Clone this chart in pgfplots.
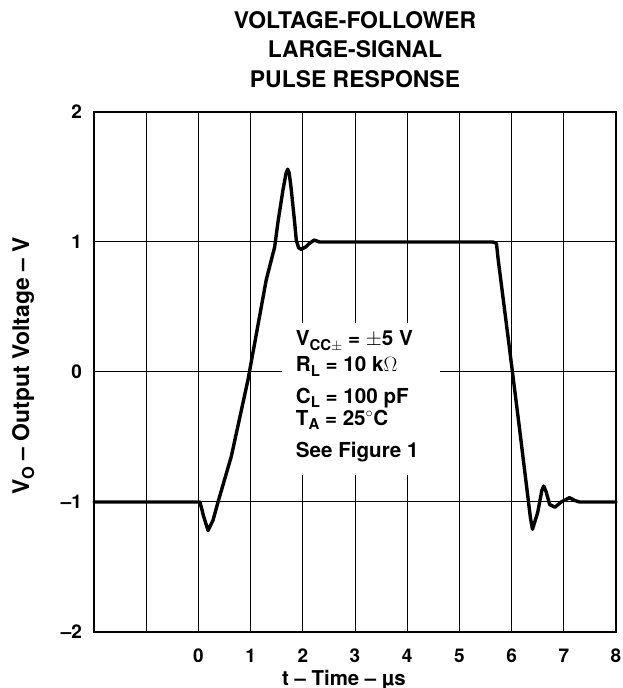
\documentclass[border=0pt]{standalone}
\usepackage{pgfplots}
\pgfplotsset{compat=1.18}
\usepackage{fontspec}
\setmainfont{TeX Gyre Heros}
\newcommand{\sub}[1]{\raisebox{-4.5bp}{\fontsize{15}{15}\selectfont #1}}
\newcommand{\ysub}[1]{\raisebox{-5bp}{\fontsize{16.5}{16.5}\selectfont #1}}
\begin{document}
\begin{tikzpicture}
\path[use as bounding box] (0bp,0bp) rectangle (623bp,688bp);
\node[font=\fontsize{23}{29.5}\selectfont\bfseries, align=center] at (355bp,638.5bp) {VOLTAGE-FOLLOWER\\LARGE-SIGNAL\\PULSE RESPONSE};
\begin{axis}[
  at={(94bp,56bp)}, anchor=south west,
  scale only axis, width=522bp, height=520bp,
  xmin=-2, xmax=8, ymin=-2, ymax=2,
  xtick={-2,-1,0,1,2,3,4,5,6,7,8},
  xticklabels={,,0,1,2,3,4,5,6,7,8},
  ytick={-2,-1,0,1,2},
  yticklabels={\textendash2,\textendash1,0,1,2},
  grid=major,
  major grid style={line width=1bp, black},
  major tick length=0pt,
  axis line style={line width=2.7bp},
  tick label style={font=\fontsize{19}{19}\selectfont\bfseries},
  xticklabel style={anchor=base, yshift=-30bp},
  yticklabel style={anchor=east, inner sep=0pt, xshift=-12bp},
  xlabel={t \textendash{} Time \textendash{} µs},
  xlabel style={at={(axis description cs:0.5,0)}, anchor=base, yshift=-53bp, xshift=-11bp, font=\fontsize{20.5}{20.5}\selectfont\bfseries},
  ylabel={V\ysub{O} \textendash{} Output Voltage \textendash{} V},
  ylabel style={at={(axis description cs:-0.1245,0.5115)}, anchor=base, font=\fontsize{23}{23}\selectfont\bfseries},
  clip=false,
]
\fill[white] (axis cs:1.596,0.377) rectangle (axis cs:4.623,-0.792);
\addplot[black, line width=3.4bp, line join=round, line cap=round] coordinates {
(-2,-1) (0.03,-1) (0.10,-1.11) (0.185,-1.22) (0.28,-1.14) (0.376,-1.0)
(0.63,-0.65) (0.95,-0.06) (1.30,0.71) (1.46,0.96) (1.525,1.156) (1.62,1.40)
(1.68,1.53) (1.71,1.56) (1.74,1.53) (1.78,1.40) (1.845,1.146) (1.875,1.015)
(1.92,0.955) (1.97,0.944) (2.05,0.96) (2.13,0.99) (2.22,1.015) (2.32,1.0)
(5.64,1.0) (5.71,0.99) (5.74,0.875) (5.96,0.18) (6.155,-0.446) (6.36,-1.12)
(6.40,-1.21) (6.50,-1.08) (6.58,-0.91) (6.615,-0.877) (6.66,-0.92) (6.73,-1.02)
(6.83,-1.04) (6.95,-1.0) (7.11,-0.967) (7.22,-0.99) (7.30,-1.0) (8,-1)
};
\begin{scope}[every node/.style={anchor=base west, inner sep=0pt, font=\fontsize{20.7}{20.7}\selectfont\bfseries}]
\node at (axis cs:1.864,0.20) {V\sub{CC$\pm$} = $\pm$5 V};
\node at (axis cs:1.864,0.00) {R\sub{L} = 10 k$\Omega$};
\node at (axis cs:1.864,-0.24) {C\sub{L} = 100 pF};
\node at (axis cs:1.864,-0.41) {T\sub{A} = 25$^\circ$C};
\node at (axis cs:1.864,-0.66) {See Figure 1};
\end{scope}
\end{axis}
\end{tikzpicture}
\end{document}
